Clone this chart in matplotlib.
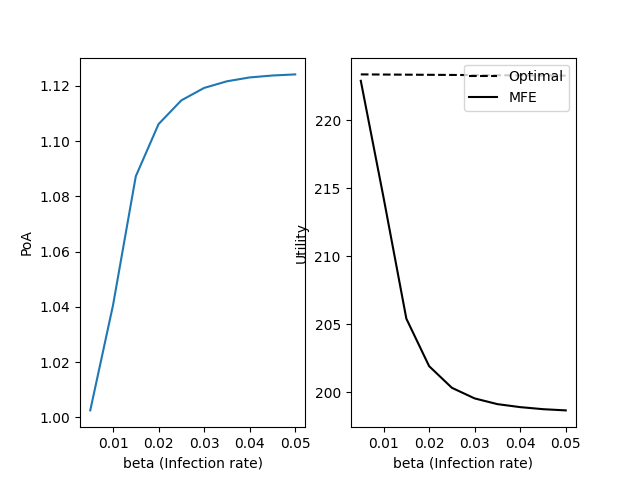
import matplotlib
matplotlib.use("Agg")
import matplotlib.pyplot as plt
import numpy as np

beta = [0.005, 0.01, 0.015, 0.02, 0.025, 0.03, 0.035, 0.04, 0.045, 0.05]
poa = [1.0025, 1.0406, 1.0873, 1.1062, 1.1148, 1.1193, 1.1217, 1.1231, 1.1238, 1.1242]
optimal = [223.36, 223.35, 223.34, 223.33, 223.32, 223.31, 223.30, 223.29, 223.28, 223.27]
mfe = [222.89, 214.31, 205.42, 201.93, 200.34, 199.56, 199.14, 198.92, 198.77, 198.68]

fig, (ax1, ax2) = plt.subplots(1, 2, figsize=(6.4, 4.8), dpi=100)
ax1.plot(beta, poa)
ax1.set_xlabel("beta (Infection rate)")
ax1.set_ylabel("PoA")

ax2.plot(beta, optimal, "k--", label="Optimal")
ax2.plot(beta, mfe, "k-", label="MFE")
ax2.set_xlabel("beta (Infection rate)")
ax2.set_ylabel("Utility")
ax2.legend(loc="upper right")

fig.savefig("out.png")
